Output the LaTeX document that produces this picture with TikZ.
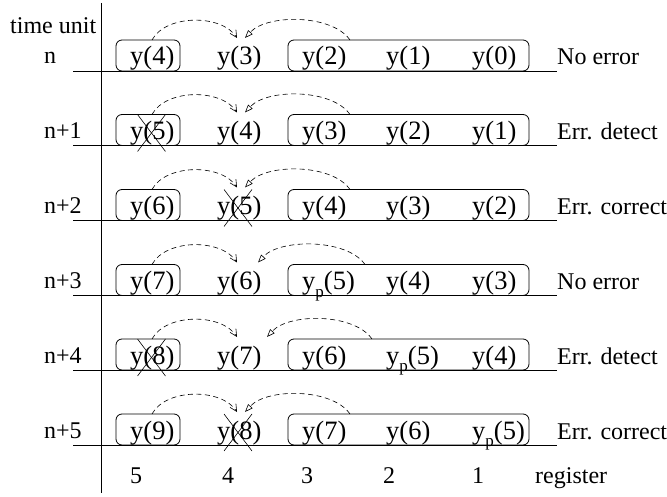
\documentclass[tikz,border=0pt]{standalone}
\usepackage{fontspec}
\setmainfont{Liberation Serif}
\usetikzlibrary{arrows.meta}

% y with a lowered "p" index
\newcommand\yp[1]{y\raisebox{-0.3em}{\fontsize{17}{17}\selectfont p}(#1)}

% one time step: #1 name, #2 height of the row line, #3 time label, #4..#8 registers 5..1
\newcommand\regrow[8]{%
  \draw[rowline] (73,#2) coordinate (#1-l) -- (557,#2) coordinate (#1-r);
  \node[lbl] (#1-lab) at (44,#2-7) {#3};
  \node[regbox, minimum width=64pt, minimum height=31pt] (#1-b5) at (148,#2-15.5) {};
  \node[regbox, minimum width=241pt, minimum height=31pt] (#1-b3) at (408.5,#2-15.5) {};
  \node[cell] (#1-c5) at (130,#2-6) {#4};
  \node[cell] (#1-c4) at (217,#2-6) {#5};
  \node[cell] (#1-c3) at (302,#2-6) {#6};
  \node[cell] (#1-c2) at (386,#2-6) {#7};
  \node[cell] (#1-c1) at (472,#2-6) {#8};
}

% status text at the end of a row
\newcommand\rowstate[3]{\node[lbl] (#1-st) at (557,#2-6) {#3};}

% the two shift arcs: #1 name, #2 row line, #3 start on the long box, #4 tip of the right arc
\newcommand\rowarcs[4]{%
  \coordinate (#1-s5) at (152,#2-31);
  \coordinate (#1-t5) at (237,#2-33);
  \coordinate (#1-s3) at (#3,#2-31);
  \coordinate (#1-t3) at (#4,#2-33);
  \draw[shiftarc, -{Straight Barb[length=7pt,width=7pt]}]
    (#1-s5) .. controls (166,#2-57) and (222,#2-57) .. (#1-t5);
  \draw[shiftarc, -{Triangle[open,length=8pt,width=6pt]}]
    (#1-s3) .. controls (#3-18,#2-57) and (#4+22,#2-57) .. (#1-t3);
}

% cross over a register value: #1 name, #2 row line, #3 centre x
\newcommand\rowcross[3]{%
  \coordinate (#1-xa) at (#3-14,#2-31);
  \coordinate (#1-xb) at (#3+14,#2+6);
  \coordinate (#1-xc) at (#3+14,#2-31);
  \coordinate (#1-xd) at (#3-14,#2+6);
  \draw[crossline] (#1-xa) -- (#1-xb);
  \draw[crossline] (#1-xc) -- (#1-xd);
}

\begin{document}
\begin{tikzpicture}[x=1pt, y=-1pt,
  font=\fontsize{24}{28}\selectfont,
  lbl/.style={anchor=base west, inner sep=0pt},
  cell/.style={lbl, font=\fontsize{26.5}{30}\selectfont},
  regbox/.style={draw, rounded corners=6pt, line width=0.8pt, inner sep=0pt},
  rowline/.style={line width=0.8pt},
  axisline/.style={line width=0.8pt},
  shiftarc/.style={line width=0.6pt, dash pattern=on 5pt off 3.5pt},
  crossline/.style={line width=0.6pt}]
  \useasboundingbox (0,0) rectangle (667,497);

  % time axis
  \coordinate (axtop) at (101,3);
  \coordinate (axbot) at (101,493);
  \draw[axisline] (axtop) -- (axbot);
  \node[lbl] (tu) at (10,34) {time unit};

  \regrow{r0}{71}{n}{y(4)}{y(3)}{y(2)}{y(1)}{y(0)}
  \rowstate{r0}{71}{No error}
  \rowarcs{r0}{71}{350}{245}

  \regrow{r1}{145.5}{n+1}{y(5)}{y(4)}{y(3)}{y(2)}{y(1)}
  \rowstate{r1}{145.5}{Err. detect}
  \rowarcs{r1}{145.5}{350}{245}
  \rowcross{r1}{145.5}{151.5}

  \regrow{r2}{220.5}{n+2}{y(6)}{y(5)}{y(4)}{y(3)}{y(2)}
  \rowstate{r2}{220.5}{Err. correct}
  \rowarcs{r2}{220.5}{350}{245}
  \rowcross{r2}{220.5}{238}

  \regrow{r3}{295.5}{n+3}{y(7)}{y(6)}{\yp{5}}{y(4)}{y(3)}
  \rowstate{r3}{295.5}{No error}
  \rowarcs{r3}{295.5}{365}{258}

  \regrow{r4}{370}{n+4}{y(8)}{y(7)}{y(6)}{\yp{5}}{y(4)}
  \rowstate{r4}{370}{Err. detect}
  \rowarcs{r4}{370}{372}{267}
  \rowcross{r4}{370}{151.5}

  \regrow{r5}{445}{n+5}{y(9)}{y(8)}{y(7)}{y(6)}{\yp{5}}
  \rowstate{r5}{445}{Err. correct}
  \rowarcs{r5}{445}{350}{245}
  \rowcross{r5}{445}{238}

  % register numbers
  \node[anchor=base, inner sep=0pt] (g5) at (136,483) {5};
  \node[anchor=base, inner sep=0pt] (g4) at (228,483) {4};
  \node[anchor=base, inner sep=0pt] (g3) at (307,483) {3};
  \node[anchor=base, inner sep=0pt] (g2) at (389,483) {2};
  \node[anchor=base, inner sep=0pt] (g1) at (478,483) {1};
  \node[lbl] (greg) at (535,483) {register};
\end{tikzpicture}
\end{document}
